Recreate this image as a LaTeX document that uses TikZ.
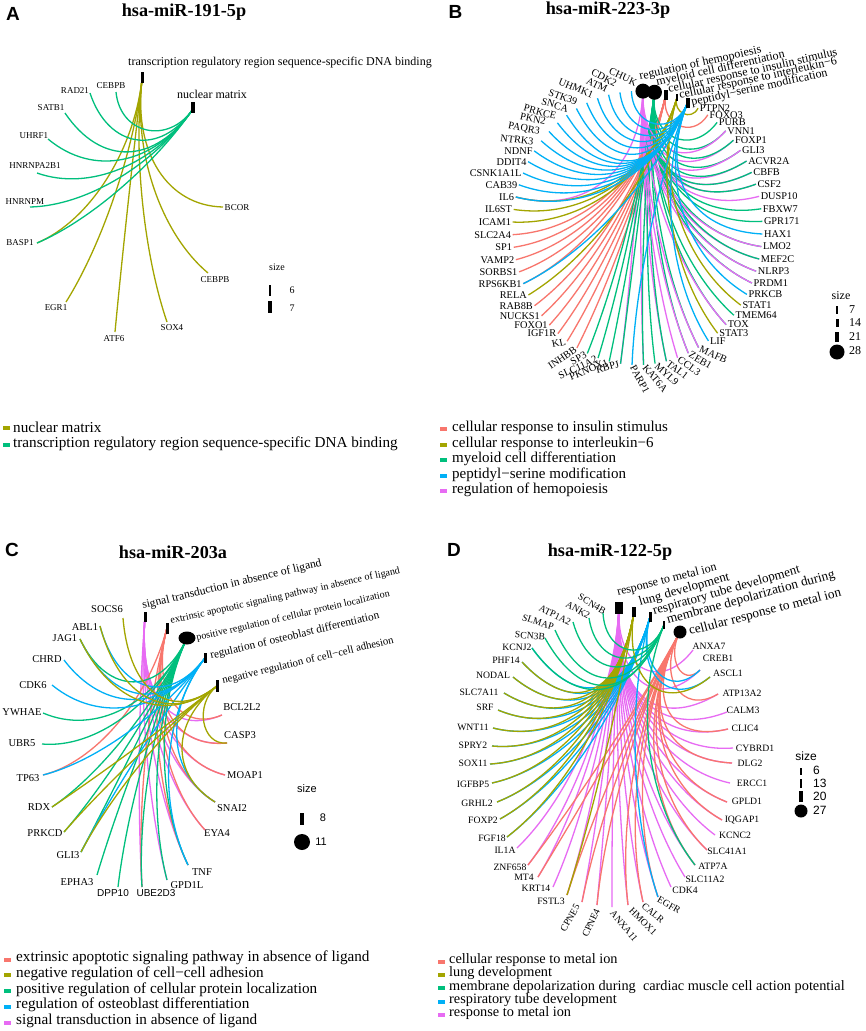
\documentclass[tikz,border=0pt]{standalone}
\usepackage{fontspec}
\setmainfont{Liberation Serif}
\setsansfont{Liberation Sans}
\usetikzlibrary{calc,shapes.geometric}
\definecolor{csal}{HTML}{F8766D}
\definecolor{coli}{HTML}{A3A500}
\definecolor{cgrn}{HTML}{00BF7D}
\definecolor{cblu}{HTML}{00B0F6}
\definecolor{cmag}{HTML}{E76BF3}
\newcommand\fs[1]{\fontsize{#1}{#1}\selectfont}
\newcommand\cedge[4]{%
 \path (#2); \pgfgetlastxy{\cAx}{\cAy}%
 \path (#3); \pgfgetlastxy{\cBx}{\cBy}%
 \path (#4); \pgfgetlastxy{\cCx}{\cCy}%
 \pgfmathsetmacro\cF{min(0.58,veclen(\cBx-\cAx,\cBy-\cAy)/210)}%
 \pgfmathsetmacro\cPx{\cAx+\cF*(\cCx-\cAx)}%
 \pgfmathsetmacro\cPy{\cAy+\cF*(\cCy-\cAy)}%
 \pgfmathsetmacro\cQx{\cBx+\cF*(\cCx-\cBx)}%
 \pgfmathsetmacro\cQy{\cBy+\cF*(\cCy-\cBy)}%
 \draw[edge,#1] (#2) .. controls (\cPx pt,\cPy pt) and (\cQx pt,\cQy pt) .. (#3);}
\tikzset{
 edge/.style={line width=1.3pt},
 plet/.style={font=\sffamily\bfseries\fs{19}, inner sep=0},
 ptit/.style={font=\bfseries\fs{18.2}, inner sep=0},
 alab/.style={font=\fs{9}, inner sep=0},
 blab/.style={font=\fs{10.3}, inner sep=1.5pt},
 clab/.style={font=\fs{10.5}, inner sep=0},
 dlab/.style={font=\fs{9.7}, inner sep=0},
 golab/.style={inner sep=0, anchor=base west},
 gbar/.style 2 args={fill=black, inner sep=0, minimum width=#1pt, minimum height=#2pt},
 gdot/.style={fill=black, circle, inner sep=0, minimum size=#1pt},
 lkey/.style={fill=#1, inner sep=0, minimum width=7pt, minimum height=4pt},
 ltxt/.style={inner sep=0, anchor=west},
}
\begin{document}
\begin{tikzpicture}[x=1pt,y=-1pt]
\useasboundingbox[fill=white] (0,0) rectangle (865,1031);

% ---------------- titles ----------------
\node[plet] (LA) at (13,13.5) {A};
\node[ptit] (TA) at (184,12) {hsa-miR-191-5p};
\node[plet] (LB) at (455.5,12) {B};
\node[ptit] (TB) at (608,10) {hsa-miR-223-3p};
\node[plet] (LC) at (12,550) {C};
\node[ptit] (TC) at (173,552) {hsa-miR-203a};
\node[plet] (LD) at (454,550) {D};
\node[ptit] (TD) at (610,552) {hsa-miR-122-5p};

% ================= PANEL A =================
\coordinate (Actr) at (127,205);
\coordinate (AT) at (142,80);
\coordinate (ANM) at (193,109);
\foreach \nm/\tx/\ex/\ey/\lx/\ly in {CEBPB1/CEBPB/116/92/111/86, RAD21/RAD21/90/93/75/91,
  SATB1/SATB1/65/113/51/108, UHRF1/UHRF1/48/139/34/136, HNRNPA2B1/HNRNPA2B1/37/173/35/166,
  HNRNPM/HNRNPM/30/207/25/202, BASP1/BASP1/37/243/20/243, EGR1/EGR1/66/302/56/308,
  ATF6/ATF6/115/332/114/339, SOX4/SOX4/167/322/172/328, CEBPB2/CEBPB/208/273/215/280,
  BCOR/BCOR/223/207/237/208}{
  \coordinate (A-\nm) at (\ex,\ey);
  \node[alab] (A-\nm-l) at (\lx,\ly) {\tx};
}
\foreach \g in {BASP1,EGR1,ATF6,SOX4,CEBPB2,BCOR}{\cedge{coli}{A-\g}{AT}{Actr}}
\foreach \g in {CEBPB1,RAD21,SATB1,UHRF1,HNRNPA2B1,HNRNPM,BASP1}{\cedge{cgrn}{A-\g}{ANM}{Actr}}
\node[gbar={3}{11}] (ATn) at (142,77.5) {};
\node[gbar={4}{11}] (ANMn) at (193,107) {};
\node[golab, font=\fs{12}] (ATl) at (128,65) {transcription regulatory region sequence-specific DNA binding};
\node[golab, font=\fs{12}] (ANMl) at (177,98) {nuclear matrix};
% size legend A
\node[font=\fs{10}] (AsizeT) at (277,267) {size};
\node[gbar={2.5}{11}] (As6) at (270,290) {};
\node[font=\fs{10}] (As6t) at (292,290) {6};
\node[gbar={4}{12}] (As7) at (270,307) {};
\node[font=\fs{10}] (As7t) at (292,308) {7};
% legend A
\node[lkey=coli] (AK1) at (6.5,427.5) {};
\node[ltxt,font=\fs{15.2}] (AL1) at (13,427) {nuclear matrix};
\node[lkey=cgrn] (AK2) at (6.5,444.5) {};
\node[ltxt,font=\fs{15.2}] (AL2) at (13,444) {transcription regulatory region sequence-specific DNA binding};

% ================= PANEL B =================
\coordinate (BC) at (637.5,228);
\foreach \k/\nm in {0/BH,-1/BM,-2/BI,-3/BL,-4/BP}{
  \coordinate (\nm) at ({637.5+125*cos(87.5+5.294*\k)},{228-137*sin(87.5+5.294*\k)});}
% top-left genes: labels at measured places
\foreach \k/\nm/\rot/\lx/\ly in {1/CHUK/-25/623/77, 2/CDK2/-28/604/78, 3/ATM/-25/597/85,
  4/UHMK1/-22/576/88, 5/STK39/-20/563/97, 6/SNCA/-17/555/105, 7/PRKCE/-15/540/112,
  8/PKN2/-12/533/119, 9/PAQR3/-10/524/129, 10/NTRK3/-7/517/140}{
  \coordinate (B-\nm) at ({637.5+125*cos(87.5+5.294*\k)},{228-137*sin(87.5+5.294*\k)});
  \node[blab, rotate=\rot, inner sep=0] (B-\nm-l) at (\lx,\ly) {\nm};
}
\foreach \k/\nm/\rot/\anc in {11/NDNF/0/east, 12/DDIT4/0/east,
  13/CSNK1A1L/0/east, 14/CAB39/0/east, 15/IL6/0/east, 16/IL6ST/0/east, 17/ICAM1/0/east,
  18/SLC2A4/0/east, 19/SP1/0/east, 20/VAMP2/0/east, 21/SORBS1/0/east, 22/RPS6KB1/0/east,
  23/RELA/0/east, 24/RAB8B/0/east, 25/NUCKS1/0/east, 26/FOXO1/0/east, 27/IGF1R/0/east,
  28/KL/12/east, 29/INHBB/35/east, 30/SP3/28/east, 31/SLC11A2/25/east, 32/PKNOX1/22/east,
  33/RBPJ/15/east, 34/PARP1/-62/west, 35/KAT6A/-50/west, 36/MYL9/-42/west, 37/TAL1/-38/west,
  38/CCL3/-35/west, 39/ZEB1/-30/west, 40/MAFB/-25/west, 41/LIF/0/west, 42/STAT3/0/west,
  43/TOX/0/west, 44/TMEM64/0/west, 45/STAT1/0/west, 46/PRKCB/0/west, 47/PRDM1/0/west,
  48/NLRP3/0/west, 49/MEF2C/0/west, 50/LMO2/0/west, 51/HAX1/0/west, 52/GPR171/0/west,
  53/FBXW7/0/west, 54/DUSP10/0/west, 55/CSF2/0/west, 56/CBFB/0/west, 57/ACVR2A/0/west,
  58/GLI3/0/west, 59/FOXP1/0/west, 60/VNN1/0/west, 61/PURB/0/west, 62/FOXO3/0/west,
  63/PTPN2/0/west}{
  \coordinate (B-\nm) at ({637.5+125*cos(87.5+5.294*\k)},{228-137*sin(87.5+5.294*\k)});
  \node[blab, rotate=\rot, anchor=\anc] (B-\nm-l) at (B-\nm) {\nm};
}
% hidden (under) edges
\foreach \g in {TAL1,MEF2C,FOXP1,CBFB,ACVR2A,CSF2,KAT6A,RBPJ,IL6}{\cedge{cmag}{B-\g}{BH}{BC}}
\foreach \g in {ZEB1,MAFB,PRDM1,LMO2,VNN1,GLI3,TOX,NLRP3}{\cedge{cgrn}{B-\g}{BM}{BC}}
% visible edges
\foreach \g in {SLC2A4,SP1,VAMP2,SORBS1,RAB8B,NUCKS1,FOXO1,IGF1R,KL,INHBB,FOXO3,RPS6KB1}{\cedge{csal}{B-\g}{BI}{BC}}
\foreach \g in {SP3,SLC11A2,PKNOX1,RBPJ,KAT6A,MYL9,TAL1,TMEM64,MEF2C,GPR171,FBXW7,CSF2,CBFB,ACVR2A,FOXP1,PURB}{\cedge{cgrn}{B-\g}{BM}{BC}}
\foreach \g in {CCL3,ZEB1,MAFB,TOX,PRDM1,NLRP3,LMO2,DUSP10,GLI3,VNN1}{\cedge{cmag}{B-\g}{BH}{BC}}
\foreach \g in {IL6,IL6ST,ICAM1,RELA,STAT3,STAT1,PTPN2}{\cedge{coli}{B-\g}{BL}{BC}}
\foreach \g in {CHUK,CDK2,ATM,UHMK1,STK39,SNCA,PRKCE,PKN2,PAQR3,NTRK3,NDNF,DDIT4,CSNK1A1L,CAB39,IL6,RPS6KB1,PARP1,LIF,PRKCB,HAX1}{\cedge{cblu}{B-\g}{BP}{BC}}
\node[gdot=15] (BHn) at (BH) {};
\node[gdot=15] (BMn) at (BM) {};
\node[gbar={3.5}{10}] (BIn) at (BI) {};
\node[gbar={2.5}{7}] (BLn) at (BL) {};
\node[gbar={4}{10}] (BPn) at (BP) {};
\node[golab, font=\fs{12}, rotate=12.5] (BHl) at (640,80) {regulation of hemopoiesis};
\node[golab, font=\fs{12}, rotate=12.5] (BMl) at (657,86) {myeloid cell differentiation};
\node[golab, font=\fs{12}, rotate=12.5] (BIl) at (669,93) {cellular response to insulin stimulus};
\node[golab, font=\fs{12}, rotate=12.5] (BLl) at (680,99) {cellular response to interleukin−6};
\node[golab, font=\fs{12}, rotate=12.5] (BPl) at (692,106) {peptidyl−serine modification};
% size legend B
\node[font=\fs{12}] (BsizeT) at (841,296) {size};
\node[gbar={2}{8}] (Bs7) at (837,310) {};
\node[ltxt,font=\fs{12}] (Bs7t) at (849,310) {7};
\node[gbar={3}{8}] (Bs14) at (837,323) {};
\node[ltxt,font=\fs{12}] (Bs14t) at (849,323) {14};
\node[gbar={4}{10}] (Bs21) at (837,337) {};
\node[ltxt,font=\fs{12}] (Bs21t) at (849,337) {21};
\node[gdot=15] (Bs28) at (837,352) {};
\node[ltxt,font=\fs{12}] (Bs28t) at (849,351) {28};
% legend B
\foreach \i/\c/\yy/\tx in {1/csal/428/cellular response to insulin stimulus,
  2/coli/443.5/cellular response to interleukin−6, 3/cgrn/459/myeloid cell differentiation,
  4/cblu/474.5/peptidyl−serine modification, 5/cmag/490/regulation of hemopoiesis}{
  \node[lkey=\c] (BK\i) at (443.5,\yy+1) {};
  \node[ltxt,font=\fs{15}] (BLg\i) at (452,\yy) {\tx};
}

% ================= PANEL C =================
\coordinate (CC) at (134,752);
\coordinate (CS) at (145,617);
\coordinate (CE) at (167,628);
\coordinate (CP) at (187,638);
\coordinate (CO) at (205,658);
\coordinate (CN) at (217,686);
\foreach \nm/\ex/\ey/\lx/\ly in {SOCS6/123/618/107/609, ABL1/100/626/85/627, JAG1/80/639/65/638,
  CHRD/64/660/47/659, CDK6/52/685/33/685, YWHAE/43/713/22/712, UBR5/42/744/22/743,
  TP63/43/775/28/778, RDX/52/807/39/807, PRKCD/64/832/45/833, GLI3/81/852/68/855,
  EPHA3/97/875/77/882, GPD1L/167/880/187/885, TNF/188/865/202/872, EYA4/205/830/217/833,
  SNAI2/215/802/232/808, MOAP1/225/775/245/775, CASP3/227/743/240/735, BCL2L2/222/715/242/707}{
  \coordinate (C-\nm) at (\ex,\ey);
  \node[clab] (C-\nm-l) at (\lx,\ly) {\nm};
}
\coordinate (C-DPP10) at (118,887);
\node[font=\sffamily\fs{10}, inner sep=0] (C-DPP10-l) at (113,893) {DPP10};
\coordinate (C-UBE2D3) at (142,887);
\node[font=\sffamily\fs{10}, inner sep=0] (C-UBE2D3-l) at (156,893) {UBE2D3};
\foreach \g in {BCL2L2,CASP3,SNAI2,TNF,MOAP1,EYA4,UBE2D3,GPD1L}{\cedge{cmag}{C-\g}{CS}{CC}}
\foreach \g in {BCL2L2,CASP3,MOAP1,EYA4,TNF,SNAI2,UBE2D3,TP63}{\cedge{csal}{C-\g}{CE}{CC}}
\foreach \g in {YWHAE,UBR5,EPHA3,DPP10,UBE2D3,GPD1L,TNF,JAG1,RDX,PRKCD,GLI3}{\cedge{cgrn}{C-\g}{CP}{CC}}
\foreach \g in {CHRD,CDK6,TP63,TNF,SNAI2,JAG1,GLI3,ABL1}{\cedge{cblu}{C-\g}{CO}{CC}}
\foreach \g in {SOCS6,ABL1,JAG1,RDX,PRKCD,GLI3,CASP3,SNAI2}{\cedge{coli}{C-\g}{CN}{CC}}
\node[gbar={3}{10}] (CSn) at (CS) {};
\node[gbar={3}{11}] (CEn) at (CE) {};
\node[fill=black, ellipse, inner sep=0, minimum width=17pt, minimum height=13pt] (CPn) at (CP) {};
\node[gbar={3}{10}] (COn) at (CO) {};
\node[gbar={3}{12}] (CNn) at (CN) {};
\node[golab, font=\fs{11.6}, rotate=13.5] (CSl) at (143,609) {signal transduction in absence of ligand};
\node[golab, font=\fs{10.1}, rotate=12.5] (CEl) at (171,624) {extrinsic apoptotic signaling pathway in absence of ligand};
\node[golab, font=\fs{10}, rotate=13] (CPl) at (197,641) {positive regulation of cellular protein localization};
\node[golab, font=\fs{11.3}, rotate=13.5] (COl) at (211,659) {regulation of osteoblast differentiation};
\node[golab, font=\fs{10.8}, rotate=13.5] (CNl) at (223,684) {negative regulation of cell−cell adhesion};
% size legend C
\node[font=\sffamily\fs{11}] (CsizeT) at (307,789) {size};
\node[gbar={3.5}{12}] (Cs8) at (302,819) {};
\node[font=\sffamily\fs{11}] (Cs8t) at (323,818) {8};
\node[gdot=16] (Cs11) at (302,842) {};
\node[font=\sffamily\fs{11}] (Cs11t) at (321,842) {11};
% legend C
\foreach \i/\c/\yy/\tx in {1/csal/958/extrinsic apoptotic signaling pathway in absence of ligand,
  2/coli/973.5/negative regulation of cell−cell adhesion,
  3/cgrn/989.5/positive regulation of cellular protein localization,
  4/cblu/1005/regulation of osteoblast differentiation,
  5/cmag/1021/signal transduction in absence of ligand}{
  \node[lkey=\c] (CK\i) at (7,\yy+1.5) {};
  \node[ltxt,font=\fs{15.2}] (CLg\i) at (16,\yy) {\tx};
}

% ================= PANEL D =================
\coordinate (DCt) at (611,757);
\coordinate (DR) at (619,608);
\coordinate (DL) at (634,612);
\coordinate (DT) at (650,617);
\coordinate (DM) at (664,625);
\coordinate (DC) at (680,632);
\foreach \nm/\ex/\ey/\lx/\ly/\rot in {SCN4B/603/613/592/604/-31, ANK2/589/618/578/610/-30,
  ATP1A2/573/622/555/615/-25, SLMAP/555/630/538/622/-18, SCN3B/545/638/530/636/-5,
  KCNJ2/532/648/517/647/0, PHF14/522/662/506/660/0, NODAL/513/677/493/675/0,
  SLC7A11/504/693/479/692/0, SRF/498/710/485/707/0, WNT11/493/728/473/727/0,
  SPRY2/492/746/473/745/0, SOX11/490/764/473/763/0, IGFBP5/492/783/473/784/0,
  GRHL2/497/802/477/803/0, FOXP2/500/819/483/820/0, FGF18/507/837/492/838/0,
  IL1A/517/848/505/850/0, ZNF658/528/865/510/867/0, MT4/538/877/524/877/0,
  KRT14/553/887/536/888/0, FSTL3/567/895/551/901/0, CPNE5/582/902/570/918/60,
  CPNE4/597/905/591/923/65, ANXA11/612/907/624/926/-50, HMOX1/628/905/643/921/-45,
  CALR/643/902/653/913/-40, EGFR/658/897/669/905/-30, CDK4/671/887/685/890/0,
  SLC11A2/685/877/705/879/0, ATP7A/695/865/713/866/0, SLC41A1/707/850/727/851/0,
  KCNC2/715/835/735/835/0, IQGAP1/722/820/742/820/0, GPLD1/727/802/747/801/0,
  ERCC1/730/783/752/783/0, DLG2/732/763/750/763/0, CYBRD1/733/748/755/748/0,
  CLIC4/728/729/745/728/0, CALM3/727/712/743/710/0, ATP13A2/718/694/742/693/0,
  ASCL1/710/677/728/673/0, CREB1/700/670/718/658/0, ANXA7/693/650/709/646/0}{
  \coordinate (D-\nm) at (\ex,\ey);
  \node[dlab, rotate=\rot] (D-\nm-l) at (\lx,\ly) {\nm};
}
\foreach \g in {IL1A,KRT14,ANXA11,CDK4,SLC11A2,KCNC2,ERCC1,CYBRD1,CALM3,ANXA7,ZNF658,MT4,CPNE4,HMOX1,SLC41A1,IQGAP1,GPLD1,DLG2,CLIC4,ATP13A2,ATP7A,CPNE5,CALR,EGFR,CREB1,FSTL3}{\cedge{cmag}{D-\g}{DR}{DCt}}
\foreach \g in {ZNF658,MT4,FSTL3,CPNE5,CPNE4,HMOX1,CALR,EGFR,ATP7A,SLC41A1,IQGAP1,GPLD1,DLG2,CLIC4,ATP13A2,CREB1}{\cedge{csal}{D-\g}{DC}{DCt}}
\foreach \g in {NODAL,SRF,WNT11,SPRY2,SOX11,GRHL2,FOXP2,FGF18,CREB1,EGFR,KCNJ2,PHF14,IGFBP5,ASCL1,SLC7A11}{\cedge{cblu}{D-\g}{DT}{DCt}}
\foreach \g in {PHF14,SLC7A11,IGFBP5,ASCL1,FSTL3}{\cedge{coli}{D-\g}{DL}{DCt}}
\foreach \g in {NODAL,SRF,WNT11,SPRY2,SOX11,GRHL2,FOXP2,FGF18}{\cedge{coli}{D-\g}{DL}{DCt}}
\foreach \g in {SCN4B,ANK2,ATP1A2,SLMAP,SCN3B,KCNJ2,ATP7A}{\cedge{cgrn}{D-\g}{DM}{DCt}}
\node[gbar={8}{12}] (DRn) at (DR) {};
\node[gbar={3.5}{10}] (DLn) at (DL) {};
\node[gbar={3}{10}] (DTn) at (DT) {};
\node[gbar={2}{8}] (DMn) at (DM) {};
\node[gdot=13] (DCn) at (DC) {};
\node[golab, font=\fs{12}, rotate=14.5] (DRl) at (618,596) {response to metal ion};
\node[golab, font=\fs{13}, rotate=16] (DLl) at (640,606) {lung development};
\node[golab, font=\fs{13}, rotate=16] (DTl) at (654,615) {respiratory tube development};
\node[golab, font=\fs{13.3}, rotate=15.5] (DMl) at (668,624) {membrane depolarization during};
\node[golab, font=\fs{13.3}, rotate=14.5] (DCl) at (690,635) {cellular response to metal ion};
% size legend D
\node[font=\sffamily\fs{12}] (DsizeT) at (806,756) {size};
\node[gbar={1.5}{7}] (Ds6) at (801,771) {};
\node[ltxt,font=\sffamily\fs{12}] (Ds6t) at (813,770) {6};
\node[gbar={2.5}{9}] (Ds13) at (801,783) {};
\node[ltxt,font=\sffamily\fs{12}] (Ds13t) at (813,783) {13};
\node[gbar={4}{11}] (Ds20) at (801,796) {};
\node[ltxt,font=\sffamily\fs{12}] (Ds20t) at (813,796) {20};
\node[gdot=13] (Ds27) at (801,811) {};
\node[ltxt,font=\sffamily\fs{12}] (Ds27t) at (813,810) {27};
% legend D
\foreach \i/\c/\yy/\tx in {1/csal/960/cellular response to metal ion,
  2/coli/973.3/lung development,
  3/cgrn/986.7/membrane depolarization during\ \ cardiac muscle cell action potential,
  4/cblu/1000/respiratory tube development,
  5/cmag/1013.3/response to metal ion}{
  \node[lkey=\c] (DK\i) at (441,\yy+1.5) {};
  \node[ltxt,font=\fs{14.3}] (DLg\i) at (449,\yy) {\tx};
}
\end{tikzpicture}
\end{document}
